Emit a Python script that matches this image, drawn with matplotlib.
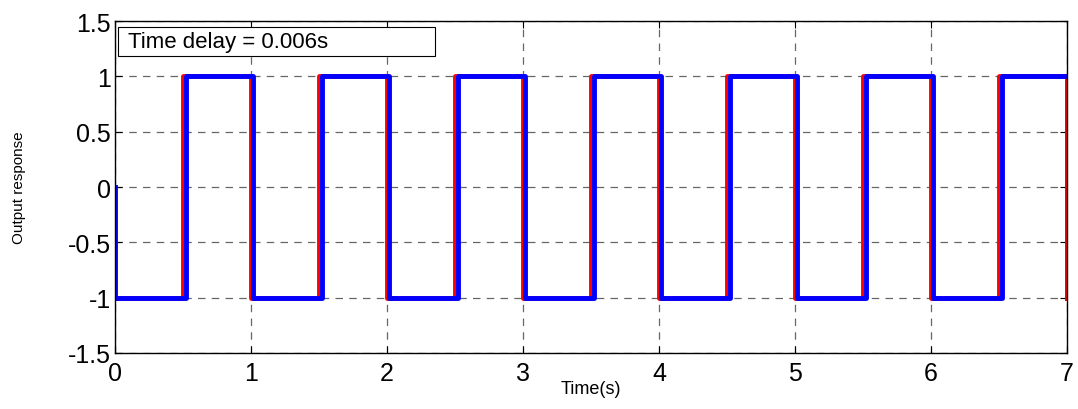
import matplotlib.pyplot as plt
from matplotlib.patches import Rectangle

plt.rcParams['font.family'] = ['Liberation Sans', 'DejaVu Sans']

# reference square wave: switching instants and the level held after each
ref_t = [0, 0.5, 1.0, 1.5, 2.0, 2.5, 3.0, 3.5, 4.0, 4.5, 5.0, 5.5, 6.0, 6.5, 7.0]
ref_y = [-1, 1, -1, 1, -1, 1, -1, 1, -1, 1, -1, 1, -1, 1, -1]

# measured output: starts at 0, follows the reference with a small lag
out_t = [0, 0.003, 0.52, 1.018, 1.52, 2.018, 2.52, 3.018, 3.52, 4.018, 4.52, 5.018, 5.52, 6.018, 6.52, 7.0]
out_y = [0, -1, 1, -1, 1, -1, 1, -1, 1, -1, 1, -1, 1, -1, 1, 1]

fig = plt.figure(figsize=(10.78, 4.10), dpi=100)
ax = fig.add_axes([0.1067, 0.1366, 0.8831, 0.8094])

ax.step(ref_t, ref_y, where='post', color='red', lw=3.5)
ax.plot([ref_t[-1], ref_t[-1]], [1, -1], color='red', lw=3.5)
ax.step(out_t, out_y, where='post', color='blue', lw=3.5)

ax.set_xlim(0, 7)
ax.set_ylim(-1.5, 1.5)
ax.set_xticks(range(8))
ax.set_yticks([-1.5, -1, -0.5, 0, 0.5, 1, 1.5])
ax.set_yticklabels(['-1.5', '-1', '-0.5', '0', '0.5', '1', '1.5'])
ax.tick_params(direction='in', labelsize=18, top=True, right=True, length=5)
ax.tick_params(axis='x', pad=6)
ax.tick_params(axis='y', pad=3)
ax.grid(True, color='black', alpha=0.6, linestyle=(0, (6, 5)), lw=0.9)
for s in ax.spines.values():
    s.set_linewidth(1.0)

ax.set_xlabel('Time(s)', fontsize=13, labelpad=-4)
ax.set_ylabel('Output response', fontsize=11, labelpad=30)

# annotation box in the upper-left corner
ax.add_patch(Rectangle((0.003, 0.895), 0.333, 0.088, transform=ax.transAxes,
                       facecolor='white', edgecolor='black', lw=0.8, zorder=5))
ax.text(0.014, 0.938, 'Time delay = 0.006s', transform=ax.transAxes,
        fontsize=16, va='center', ha='left', zorder=6)

fig.savefig('out.png', dpi=100)
